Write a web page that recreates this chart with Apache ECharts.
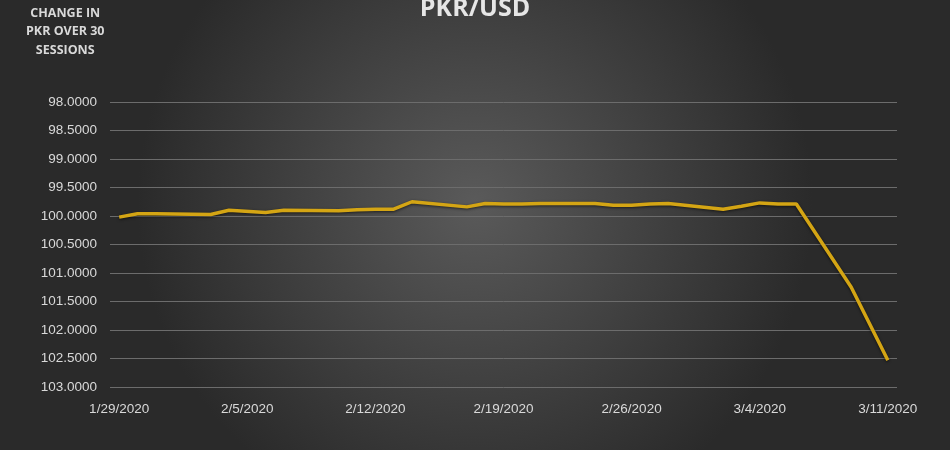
<!DOCTYPE html>
<html>
<head>
<meta charset="utf-8">
<script src="https://cdn.jsdelivr.net/npm/echarts@6/dist/echarts.min.js"></script>
<style>html,body{margin:0;padding:0;background:#333;}#c{width:950px;height:450px;}</style>
</head>
<body>
<div id="c"></div>
<script>
// Trading sessions (date labels) and index values
var sessionDates = ['1/29/2020','1/30/2020','1/31/2020','2/3/2020','2/4/2020','2/6/2020','2/7/2020',
  '2/10/2020','2/11/2020','2/12/2020','2/13/2020','2/14/2020','2/17/2020','2/18/2020','2/19/2020',
  '2/20/2020','2/21/2020','2/24/2020','2/25/2020','2/26/2020','2/27/2020','2/28/2020','3/2/2020',
  '3/3/2020','3/4/2020','3/5/2020','3/6/2020','3/9/2020','3/10/2020','3/11/2020'];
var sessionValues = [100.02, 99.96, 99.96, 99.975, 99.90, 99.94, 99.90,
  99.91, 99.89, 99.88, 99.88, 99.75, 99.84, 99.78, 99.79,
  99.79, 99.78, 99.78, 99.81, 99.81, 99.79, 99.78, 99.88,
  99.83, 99.77, 99.79, 99.79, 101.25, 101.89, 102.53];
var titleText = 'PKR/USD';
var sideNote = 'CHANGE IN\nPKR OVER 30\nSESSIONS';
var yMin = 98, yMax = 103, yStep = 0.5;

// Build a daily calendar axis (date axis like the original), weekends/holidays empty
function buildDays(first, last) {
  var out = [];
  var d = new Date(first), e = new Date(last);
  while (d <= e) {
    out.push((d.getMonth() + 1) + '/' + d.getDate() + '/' + d.getFullYear());
    d.setDate(d.getDate() + 1);
  }
  return out;
}
var days = buildDays(2020 + '-01-29T00:00:00', 2020 + '-03-11T00:00:00');
var lookup = {};
sessionDates.forEach(function (k, i) { lookup[k] = sessionValues[i]; });
var seriesData = days.map(function (k) { return lookup.hasOwnProperty(k) ? lookup[k] : null; });

var chart = echarts.init(document.getElementById('c'));
chart.setOption({
  backgroundColor: {
    type: 'radial', x: 0.5, y: 0.45, r: 0.75,
    colorStops: [{offset: 0, color: '#5a5a5a'}, {offset: 1, color: '#2a2a2a'}]
  },
  animation: false,
  title: {
    text: titleText, left: 'center', top: -9,
    textStyle: {color: '#e6e6e6', fontSize: 25, fontWeight: 'bold', fontFamily: 'Open Sans'}
  },
  graphic: [{
    type: 'text', left: 26, top: 4,
    style: {text: sideNote, fill: '#d9d9d9', font: 'bold 12.5px "Open Sans"', textAlign: 'center', lineHeight: 18.5},
  }],
  grid: {left: 110, right: 53, top: 102, bottom: 63},
  xAxis: {
    type: 'category', data: days, boundaryGap: true,
    axisLine: {show: false}, axisTick: {show: false},
    axisLabel: {interval: 6, color: '#d9d9d9', fontSize: 13.5, fontFamily: 'Liberation Sans', margin: 15}
  },
  yAxis: {
    type: 'value', inverse: true, min: yMin, max: yMax, interval: yStep,
    axisLine: {show: false}, axisTick: {show: false},
    axisLabel: {color: '#d9d9d9', fontSize: 13.5, fontFamily: 'Liberation Sans', margin: 13,
      formatter: function (v) { return v.toFixed(4); }},
    splitLine: {lineStyle: {color: '#6c6c6c', width: 1}}
  },
  series: [{
    type: 'line', data: seriesData, connectNulls: true, showSymbol: false,
    lineStyle: {color: '#d4a514', width: 3.5, shadowColor: 'rgba(0,0,0,0.6)', shadowBlur: 3, shadowOffsetY: 1}
  }]
});
</script>
</body>
</html>
